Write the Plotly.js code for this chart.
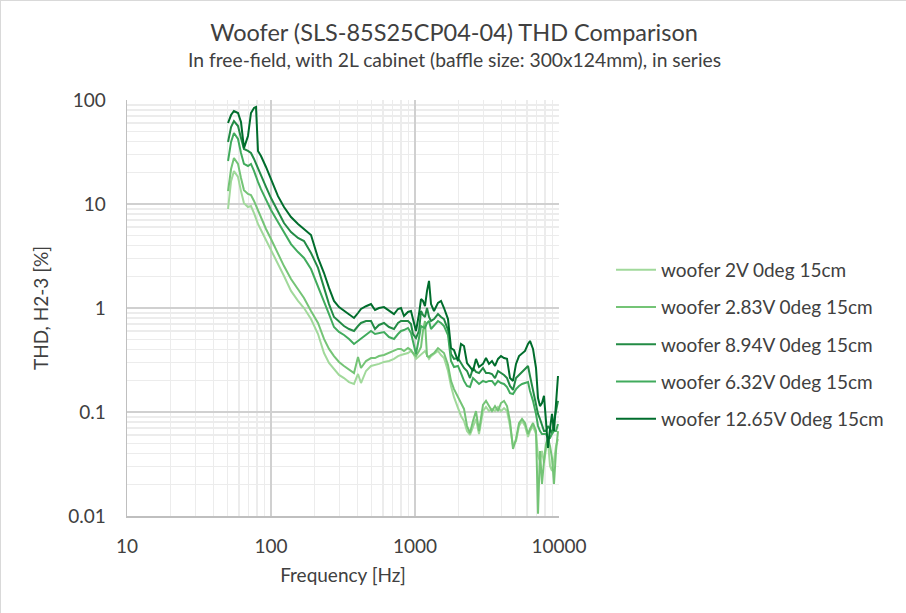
<!DOCTYPE html>
<html>
<head>
<meta charset="utf-8">
<script src="https://cdn.plot.ly/plotly-3.0.1.min.js"></script>
<style>
  html,body{margin:0;padding:0;background:#fff;}
  #chart{width:906px;height:613px;box-sizing:border-box;border:1px solid #d9d9d9;}
</style>
</head>
<body>
<div id="chart"></div>
<script>
// Frequency points (Hz), shared by all five measurements
const freq=[50.3,52.8,55.3,59.0,61.9,64.9,69.2,72.6,76.2,78.7,81.2,85.2,92.3,100,111.8,123.1,137.7,154.0,169.5,189.6,
  212.1,233.4,252.8,273.8,296.6,321.3,348.1,377.1,402.0,421.7,456.8,494.9,527.6,562.3,609.1,659.9,714.9,762.1,799.3,838.6,
  894.0,937.9,968.5,1016,1066,1101,1136,1173,1212,1251,1292,1355,1444,1516,1590,1695,1778,1866,1989,2086,
  2189,2297,2409,2528,2652,2783,2966,3112,3265,3425,3594,3771,3956,4151,4355,4569,4794,5029,5277,5536,
  5808,6093,6290,6600,6924,7149,7380,7619,7866,8121,8384,8660,8940,9232,9532,9842];

// THD, H2-3 [%]
const thd2V=[8.95,16.6,20.7,18.2,13.3,10.2,9.35,9.57,8.18,7.18,6.43,5.62,4.51,3.61,2.71,2.03,1.46,1.17,1.0,0.783,
  0.562,0.369,0.296,0.259,0.227,0.212,0.194,0.186,0.232,0.190,0.248,0.277,0.283,0.290,0.303,0.309,0.324,0.345,0.353,0.361,
  0.369,0.386,0.369,0.324,0.345,0.361,0.369,0.386,0.353,0.324,0.345,0.361,0.386,0.353,0.330,0.248,0.178,0.139,0.109,0.0916,
  0.0818,0.0656,0.0601,0.0733,0.0857,0.0614,0.102,0.112,0.102,0.107,0.102,0.112,0.102,0.109,0.102,0.0733,0.0471,0.0526,0.0733,0.0818,
  0.0733,0.0575,0.0656,0.0733,0.0614,0.0378,0.0338,0.0422,0.0324,0.0441,0.0526,0.0303,0.0271,0.0338,0.0471,0.0550];

const thd283V=[13.3,21.7,27.7,24.3,17.8,13.6,12.5,12.2,10.7,9.57,8.57,7.50,5.75,4.61,3.30,2.53,1.90,1.52,1.25,0.936,
  0.718,0.504,0.404,0.345,0.303,0.277,0.254,0.237,0.338,0.265,0.309,0.330,0.330,0.345,0.353,0.369,0.386,0.404,0.404,0.386,
  0.412,0.394,0.369,0.345,0.386,0.422,0.601,0.750,0.345,0.338,0.353,0.369,0.412,0.386,0.369,0.283,0.199,0.166,0.139,0.122,
  0.107,0.0733,0.0628,0.0818,0.102,0.0656,0.117,0.128,0.114,0.102,0.114,0.102,0.122,0.128,0.114,0.0818,0.0441,0.0550,0.0783,0.0857,
  0.0783,0.0614,0.0687,0.0783,0.0656,0.0105,0.0422,0.0203,0.0338,0.0492,0.0562,0.0471,0.0362,0.0203,0.0422,0.0656];

const thd894V=[39.5,55.0,62.8,56.2,43.1,33.8,32.4,30.9,27.1,24.3,21.7,18.6,14.6,11.4,8.38,6.56,5.38,4.71,4.41,3.38,
  2.43,1.52,1.09,0.819,0.733,0.671,0.628,0.601,0.671,0.718,0.750,0.750,0.628,0.687,0.718,0.656,0.628,0.718,0.750,0.750,
  0.750,0.702,0.562,0.515,0.601,0.936,0.857,0.819,1.0,0.819,0.750,0.783,0.875,0.819,0.783,0.614,0.361,0.324,0.330,0.296,
  0.265,0.248,0.212,0.265,0.243,0.237,0.265,0.237,0.237,0.232,0.212,0.248,0.237,0.227,0.212,0.178,0.163,0.212,0.227,0.243,
  0.259,0.277,0.222,0.166,0.119,0.0957,0.0857,0.0767,0.0656,0.0656,0.0733,0.0687,0.0614,0.0818,0.102,0.128];

const thd632V=[25.9,39.5,48.2,42.2,30.9,24.3,23.2,24.3,20.8,18.2,16.3,13.9,10.9,8.75,6.71,5.38,4.12,3.45,3.03,2.37,
  1.63,1.17,0.875,0.656,0.588,0.550,0.504,0.451,0.482,0.515,0.562,0.601,0.562,0.575,0.588,0.526,0.504,0.562,0.601,0.614,
  0.643,0.575,0.482,0.361,0.515,0.671,0.656,0.643,0.718,0.750,0.628,0.671,0.750,0.718,0.671,0.550,0.309,0.271,0.277,0.237,
  0.199,0.178,0.174,0.212,0.199,0.186,0.199,0.194,0.199,0.199,0.182,0.199,0.190,0.186,0.174,0.152,0.149,0.166,0.178,0.186,
  0.190,0.194,0.159,0.128,0.0957,0.0733,0.0656,0.0614,0.0614,0.0614,0.0562,0.0562,0.0614,0.0656,0.0656,0.0767];

const thd1265V=[60.1,71.7,78.4,75.0,61.4,34.5,45.1,75.0,83.8,85.7,32.4,28.9,22.7,17.4,11.9,9.35,7.50,6.43,5.75,5.04,
  3.03,2.17,1.56,1.17,1.02,0.936,0.857,0.802,0.895,0.978,1.04,1.09,0.957,1.0,1.02,0.936,0.875,0.978,1.0,0.838,
  0.916,0.936,0.802,0.601,0.875,1.22,1.17,1.04,1.46,1.82,1.09,0.936,1.12,1.17,1.0,0.783,0.412,0.394,0.309,0.451,
  0.431,0.296,0.271,0.248,0.324,0.271,0.290,0.330,0.290,0.309,0.277,0.324,0.345,0.330,0.324,0.212,0.199,0.290,0.345,0.369,
  0.386,0.451,0.482,0.404,0.265,0.136,0.114,0.122,0.143,0.0818,0.0451,0.0687,0.0957,0.0656,0.114,0.222];

const seriesNames=["woofer 2V 0deg 15cm","woofer 2.83V 0deg 15cm","woofer 8.94V 0deg 15cm","woofer 6.32V 0deg 15cm","woofer 12.65V 0deg 15cm"];
const seriesValues=[thd2V,thd283V,thd894V,thd632V,thd1265V];
const seriesColors=["#a1d99b","#74c476","#238b45","#41ab5d","#006d2c"];

const FONT="Lato, 'Noto Sans', sans-serif";
const TXT="#404040";

const traces=seriesNames.map((name,i)=>({
  x:freq,
  y:seriesValues[i],
  name:name,
  type:"scatter",
  mode:"lines",
  legendgroup:"g"+i,
  line:{color:seriesColors[i],width:2},
  hoverinfo:"skip"
}));

const layout={
  width:906,
  height:613,
  paper_bgcolor:"#ffffff",
  plot_bgcolor:"#ffffff",
  font:{family:FONT,color:TXT,size:19},
  margin:{l:126,r:348,t:99,b:98,pad:0},
  title:{
    text:"Woofer (SLS-85S25CP04-04) THD Comparison",
    font:{family:FONT,size:23.5,color:TXT},
    xref:"container",x:0.5,xanchor:"center",
    yref:"container",y:1-32/613,yanchor:"middle"
  },
  annotations:[{
    text:"In free-field, with 2L cabinet (baffle size: 300x124mm), in series",
    font:{family:FONT,size:19.3,color:TXT},
    xref:"paper",x:(453-126)/432,xanchor:"center",
    yref:"paper",y:(515-59)/416,yanchor:"middle",
    showarrow:false
  }],
  xaxis:{
    type:"log",
    range:[1,4],
    tickvals:[10,100,1000,10000],
    ticktext:["10","100","1000","10000"],
    ticks:"",
    ticklabelstandoff:13,
    tickfont:{family:FONT,size:19,color:TXT},
    showgrid:true,
    gridcolor:"#d0d0d0",
    gridwidth:1.5,
    minor:{dtick:"D1",showgrid:true,gridcolor:"#ececec",gridwidth:1.5,ticks:""},
    showline:true,
    linecolor:"#bfbfbf",
    linewidth:1.5,
    zeroline:false,
    title:{text:"Frequency [Hz]",font:{family:FONT,size:19,color:TXT},standoff:12}
  },
  yaxis:{
    type:"log",
    range:[-2,2],
    tickvals:[0.01,0.1,1,10,100],
    ticktext:["0.01","0.1","1","10","100"],
    ticks:"",
    ticklabelstandoff:16,
    tickfont:{family:FONT,size:19,color:TXT},
    showgrid:true,
    gridcolor:"#d0d0d0",
    gridwidth:1.5,
    minor:{dtick:"D1",showgrid:true,gridcolor:"#ececec",gridwidth:1.5,ticks:""},
    showline:true,
    linecolor:"#bfbfbf",
    linewidth:1.5,
    zeroline:false,
    title:{text:"THD, H2-3 [%]",font:{family:FONT,size:19,color:TXT},standoff:14}
  },
  showlegend:true,
  legend:{
    x:(610-126)/432,y:(515-250)/416,xanchor:"left",yanchor:"top",
    font:{family:FONT,size:19,color:TXT},
    traceorder:"grouped",
    tracegroupgap:9.5,
    itemwidth:40,
    bgcolor:"rgba(0,0,0,0)"
  }
};

Plotly.newPlot("chart",traces,layout,{displayModeBar:false,staticPlot:true});
</script>
</body>
</html>
